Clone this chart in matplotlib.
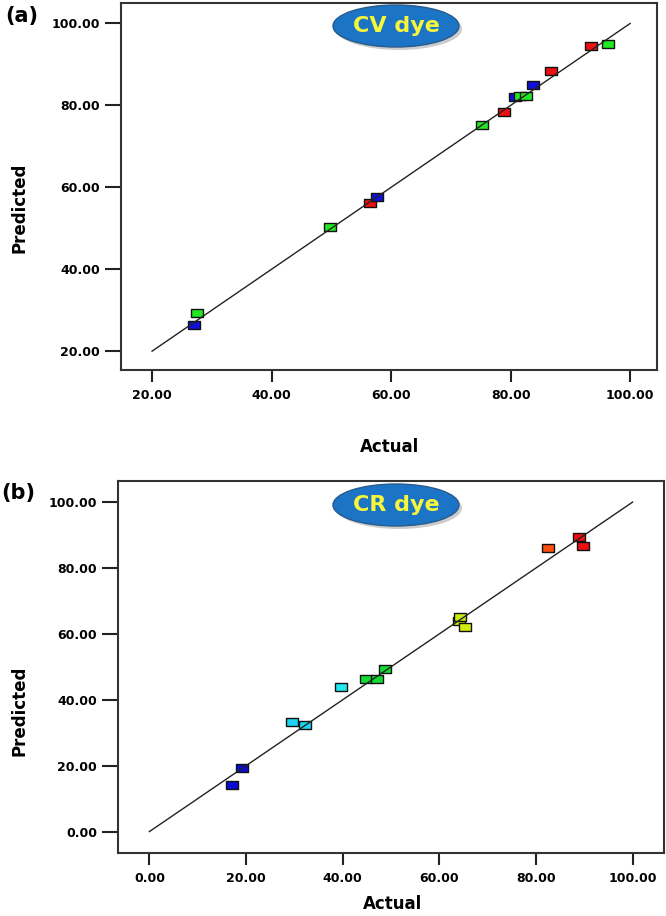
import matplotlib
matplotlib.use("Agg")
import matplotlib.pyplot as plt
from matplotlib.patches import Ellipse

W, H = 666, 916

# (a) CV dye: actual vs predicted removal (%)
cv_actual = [27.6, 27.1, 49.7, 56.5, 57.6, 75.2, 78.9, 80.8, 81.5, 82.5, 83.8, 86.8, 93.5, 96.3]
cv_predicted = [29.4, 26.4, 50.2, 56.2, 57.6, 75.3, 78.5, 82.0, 82.3, 82.4, 84.9, 88.3, 94.4, 95.1]
cv_colors = ["#22e822", "#1010d8", "#22e822", "#ee1010", "#1010d8", "#22e822", "#ee1010",
             "#1010d8", "#22e822", "#22e822", "#1010d8", "#ee1010", "#ee1010", "#22e822"]

# (b) CR dye
cr_actual = [17.0, 19.1, 29.5, 32.3, 39.6, 44.9, 47.0, 48.7, 64.0, 64.2, 65.4, 82.5, 88.9, 89.7]
cr_predicted = [14.2, 19.2, 33.4, 32.3, 43.8, 46.4, 46.4, 49.3, 63.8, 65.2, 62.2, 86.1, 89.5, 86.7]
cr_colors = ["#0a0ad8", "#0a0ad8", "#1ad4f4", "#1ad4f4", "#22eaee", "#11dd33", "#11dd33",
             "#11dd33", "#c8ec10", "#c8ec10", "#d4ec10", "#ff5010", "#ee1010", "#ee1010"]

rect_marker = [(-1.6, -1), (1.6, -1), (1.6, 1), (-1.6, 1), (-1.6, -1)]

plt.rcParams["font.family"] = "DejaVu Sans"
plt.rcParams["font.weight"] = "bold"

fig = plt.figure(figsize=(W / 100, H / 100), dpi=100)


def px_rect(left, top, right, bottom):
    return [left / W, 1 - bottom / H, (right - left) / W, (bottom - top) / H]


def ftext(x, y, s, **kw):
    # place text by pixel position from the top-left corner
    return fig.text(x / W, 1 - y / H, s, ha="center", va="center", **kw)


def panel(rect, actual, predicted, colors, lo, hi, xlim, ylim, ticks, tag, tag_xy,
          badge, badge_xy, ylab_xy, xlab_xy):
    ax = fig.add_axes(rect)
    ax.plot([lo, hi], [lo, hi], color="#222222", lw=1.0, zorder=3)
    for a, p, c in zip(actual, predicted, colors):
        ax.plot(a, p, marker=rect_marker, ms=9.2, mfc=c, mec="#111111", mew=1.0,
                ls="none", zorder=2)
    ax.set_xlim(*xlim)
    ax.set_ylim(*ylim)
    ax.set_xticks(ticks)
    ax.set_yticks(ticks)
    ax.set_xticklabels([f"{t:.2f}" for t in ticks], fontsize=9, fontweight="bold")
    ax.set_yticklabels([f"{t:.2f}" for t in ticks], fontsize=9, fontweight="bold")
    ax.tick_params(axis="y", length=11.5, width=1.5, pad=3.5, color="#222222",
                   labelcolor="black")
    ax.tick_params(axis="x", length=8.5, width=1.5, pad=5, color="#222222",
                   labelcolor="black")
    for s in ax.spines.values():
        s.set_linewidth(1.5)
        s.set_color("#333333")

    ftext(*ylab_xy, "Predicted", fontsize=12, fontweight="bold", rotation=90)
    ftext(*xlab_xy, "Actual", fontsize=12, fontweight="bold")
    ftext(*tag_xy, tag, fontsize=15, fontweight="bold")

    cx, cy = badge_xy
    shadow = Ellipse(((cx + 3) / W, 1 - (cy + 3) / H), 126 / W, 42 / H,
                     transform=fig.transFigure, facecolor="#9a9a9a", edgecolor="none",
                     alpha=0.5, zorder=5)
    oval = Ellipse((cx / W, 1 - cy / H), 126 / W, 42 / H, transform=fig.transFigure,
                   facecolor="#1b74c5", edgecolor="#275b8c", lw=1.0, zorder=6)
    fig.add_artist(shadow)
    fig.add_artist(oval)
    ftext(cx, cy, badge, fontsize=16, fontweight="bold", color="#f6f63a", zorder=7)
    return ax


panel(px_rect(121, 3, 657, 370), cv_actual, cv_predicted, cv_colors, 20, 100,
      (14.8, 104.5), (15.4, 105.0), [20, 40, 60, 80, 100], "(a)", (22, 16),
      "CV dye", (396, 26), (20, 208), (390, 447))

panel(px_rect(118, 481, 664, 853), cr_actual, cr_predicted, cr_colors, 0, 100,
      (-6.5, 106.5), (-6.5, 106.4), [0, 20, 40, 60, 80, 100], "(b)", (18, 493),
      "CR dye", (396, 505), (20, 711), (393, 904))

fig.savefig("out.png", dpi=100)
